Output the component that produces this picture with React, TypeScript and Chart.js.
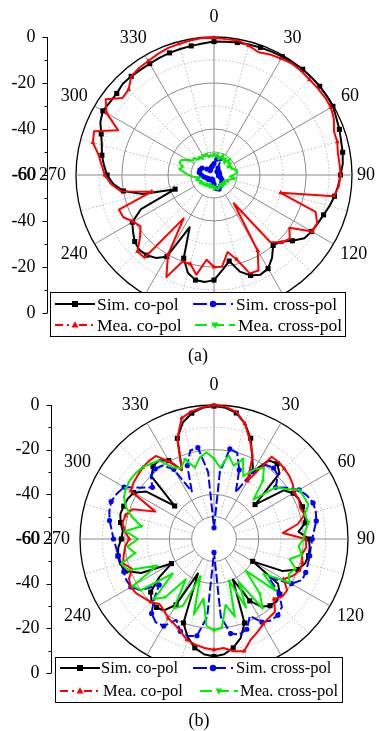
import React, { useEffect, useRef } from "react";
import { Chart, registerables } from "chart.js";

Chart.register(...registerables);

// ---------- data ----------
const ANGLES = [
  0, 5, 10, 15, 20, 25, 30, 35, 40, 45, 50, 55, 60, 65, 70, 75, 80, 85,
  90, 95, 100, 105, 110, 115, 120, 125, 130, 135, 140, 145, 150, 155, 160, 165, 170, 175,
  180, 185, 190, 195, 200, 205, 210, 215, 220, 225, 230, 235, 240, 245, 250, 255, 260, 265,
  270, 275, 280, 285, 290, 295, 300, 305, 310, 315, 320, 325, 330, 335, 340, 345, 350, 355,
];
const ANGLE_LABELS = [0, 30, 60, 90, 120, 150, 180, 210, 240, 270, 300, 330];
const GRID_VALUES = [-50, -40, -30, -20, -10, 0];
const AXIS_TICKS = [-60, -50, -40, -30, -20, -10, 0];
const AXIS_LABELS = [0, -20, -40, -60];
const LEGEND_LABELS = ["Sim. co-pol", "Sim. cross-pol", "Mea. co-pol", "Mea. cross-pol"];
const CAPTIONS = ["(a)", "(b)"];

// (a)
const SIM_CO_A = [
  -2, -1.8, -1.5, -1.3, -1, -0.8, -0.6, -0.3, 0, 0, 0, -0.1, -0.3, -1.3, -2, -2.8, -3.2, -3.8,
  -5, -5.8, -6.8, -8, -9.3, -10.2, -11, -12, -15.5, -19, -20, -16, -13, -12.2, -13.5, -16.5, -22, -18.5,
  -14.3, -13.3, -13.6, -16, -21.5, -35, -19, -16, -14.5, -14, -15, -17, -19, -25, -42, -28, -20, -16,
  -13.5, -12, -10.5, -9.5, -7.8, -5.5, -4.2, -4.8, -4.8, -3.9, -4, -4.2, -4.1, -3.8, -3.5, -3.3, -3, -2.6,
];
const MEA_CO_A = [
  -0.3, -0.7, -0.6, -1.8, -3.2, -2.2, -1.6, -0.9, -1, -1.3, -1.2, -1.1, -1.3, -2.5, -4.5, -4.5, -5.3, -5.2,
  -5, -5.5, -7, -30, -13, -10.5, -10.8, -20, -17, -18.5, -22, -45, -22, -14.2, -14.5, -22, -26, -20,
  -20, -23, -16, -20, -20, -11, -20, -37, -13, -13, -18, -21, -19.5, -16.5, -16, -32, -19, -15,
  -12.5, -11, -9, -5.5, -4.5, -14, -6, -2.5, -8, -7.5, -4, -3.2, -2.8, -2, -1.3, -1, -0.6, -0.2,
];
const SIM_CROSS_A = [
  -55, -54, -53, -52.5, -52.5, -54, -56.5, -57.5, -58, -58, -57.5, -57, -57.5, -58, -58, -58, -57.5, -57.5,
  -58, -58, -58, -57.5, -57, -56.5, -56, -56, -55.5, -55.5, -55, -55, -54.5, -54, -53.5, -53.5, -54, -55,
  -56, -57, -57.5, -58, -58, -58, -58, -57.5, -57.5, -57.5, -57, -57, -57, -56.5, -56.5, -56, -55.5, -55,
  -54.5, -54, -53.5, -53.5, -53.5, -53.5, -54, -55, -56, -57, -57.5, -57.5, -57, -57, -56.5, -56.5, -56, -55.5,
];
const MEA_CROSS_A = [
  -51, -52, -50.5, -53, -52, -50, -52.5, -51, -53, -50, -52, -51, -53, -51.5, -52, -50.5, -50, -50,
  -51.5, -53, -51, -52.5, -54, -53, -54.5, -55, -53.5, -55, -54, -55.5, -54, -55, -54, -53.5, -54, -55,
  -54, -55.5, -54.5, -55, -54.5, -56, -55, -54, -55, -54, -53.5, -54.5, -53, -54, -53, -52, -53.5, -51,
  -49, -47, -45, -46, -44, -44.5, -47, -49, -48.5, -50.5, -50, -51.5, -50, -51, -50.5, -52, -51, -52,
];

// (b)
const SIM_CO_B = [
  -0.5, -1, -2.7, -6.5, -12, -19.5, -25, -17, -16, -18.5, -36, -22, -19, -18, -17.8, -18, -18.5, -22,
  -17.5, -17, -17, -17.8, -20, -26, -40, -25, -21.5, -20.5, -21, -23, -28, -40, -20, -14, -10.5, -8.2,
  -7.4, -8.2, -10.5, -14.5, -20, -43, -26, -21, -20, -20.5, -23, -30, -38, -24, -18, -16.5, -16.3, -17,
  -18.5, -19, -17.5, -16.6, -17, -17.4, -18.5, -23, -37, -20.5, -17.5, -17, -19.5, -26, -12, -6, -2.8, -1,
];
const MEA_CO_B = [
  0, -0.5, -2.2, -6.5, -13, -19, -30, -15, -15, -15.5, -16, -17, -18.5, -18, -19, -18, -22, -29,
  -19, -18.5, -20, -19, -19, -21, -24, -20, -20, -22, -17.5, -17, -16, -14, -12, -8, -9, -11,
  -10.4, -11, -12, -13.2, -16, -18, -19, -21, -22, -20, -19, -17.5, -17, -18, -21, -17.8, -19, -20,
  -22, -20, -18.4, -19, -21, -31, -17, -16, -15.5, -14.8, -14.5, -14.6, -20, -26, -12, -4, -2, -0.8,
];
const SIM_CROSS_B = [
  -55, -30, -19, -20, -27, -37, -25, -19.5, -18.5, -19.5, -24, -20, -16, -14, -12.8, -12.8, -13.5, -15,
  -16, -16.5, -16.5, -16.5, -16.3, -16.5, -20, -30, -22, -17, -15.5, -15.5, -17, -22, -17, -15.8, -17, -25,
  -54, -25, -16, -15, -16, -20, -15, -14.5, -16.5, -22, -28, -20, -17, -16.7, -17, -17, -16.5, -16,
  -15, -14, -12.5, -11.5, -11, -12, -13.5, -20, -24, -20, -19, -19.8, -24, -36.5, -25, -19, -18.5, -30,
];
const MEA_CROSS_B = [
  -24, -28, -22, -26, -22, -29, -24, -21, -26, -35, -24, -21, -16, -15.5, -15, -18, -17, -19,
  -20, -22, -20, -25, -21, -23, -21, -33, -24, -40, -28, -22, -38, -26, -40, -24, -30, -20,
  -19, -21, -33, -25, -42, -27, -24, -38, -26, -22, -36, -20, -18, -32, -19, -17, -24, -21,
  -26, -20, -27, -22, -18, -15.5, -14.5, -14, -14.2, -14.6, -16, -17, -23, -25, -22, -27, -23, -21,
];

// ---------- styles ----------
const FONT = '"Liberation Serif", "Times New Roman", Times, serif';
const STYLES = [
  { color: "#000000", dash: [] as number[], marker: "rect", every: 2, radius: 3.6, legendDash: [] as number[] },
  { color: "#0000ff", dash: [9, 3], marker: "circle", every: 2, radius: 2.6, legendDash: [14, 5] },
  { color: "#ff0000", dash: [] as number[], marker: "triangle", every: 3, radius: 2.8, legendDash: [8, 4, 2, 4, 2, 4] },
  { color: "#00ee00", dash: [] as number[], marker: "triangle", every: 4, radius: 2.4, legendDash: [12, 5] },
];

type PlotCfg = {
  series: number[][];
  pad: { left: number; right: number; top: number; bottom: number };
  legend: {
    x: number; y: number; w: number; h: number; font: number; rows: number[];
    cols: { l1: number; l2: number; t: number }[][];
  };
};

const PLOTS: PlotCfg[] = [
  {
    series: [SIM_CO_A, SIM_CROSS_A, MEA_CO_A, MEA_CROSS_A],
    pad: { left: 76, right: 24, top: 37, bottom: 53 },
    legend: {
      x: 50.5, y: 292.5, w: 295, h: 44, font: 17.5, rows: [304, 325],
      cols: [
        [{ l1: 55, l2: 95, t: 97 }, { l1: 193, l2: 233, t: 236 }],
        [{ l1: 55, l2: 95, t: 97 }, { l1: 195, l2: 235, t: 238 }],
      ],
    },
  },
  {
    series: [SIM_CO_B, SIM_CROSS_B, MEA_CO_B, MEA_CROSS_B],
    pad: { left: 80, right: 28, top: 39, bottom: 58 },
    legend: {
      x: 55.5, y: 291.5, w: 287, h: 45, font: 16.5, rows: [302, 325],
      cols: [
        [{ l1: 60, l2: 100, t: 101 }, { l1: 193, l2: 233, t: 236 }],
        [{ l1: 60, l2: 100, t: 103 }, { l1: 200, l2: 238, t: 240 }],
      ],
    },
  },
];

function drawMarker(ctx: CanvasRenderingContext2D, kind: string, x: number, y: number, r: number, down: boolean) {
  ctx.beginPath();
  if (kind === "rect") {
    ctx.rect(x - r, y - r, 2 * r, 2 * r);
  } else if (kind === "circle") {
    ctx.arc(x, y, r, 0, Math.PI * 2);
  } else {
    const s = down ? -1 : 1;
    ctx.moveTo(x, y - s * r * 1.2);
    ctx.lineTo(x + r * 1.1, y + s * r * 0.8);
    ctx.lineTo(x - r * 1.1, y + s * r * 0.8);
    ctx.closePath();
  }
  ctx.fill();
}

function makeDecor(cfg: PlotCfg) {
  return {
    id: "decor",
    beforeDatasetsDraw(chart: any) {
      const s = chart.scales.r;
      const ctx: CanvasRenderingContext2D = chart.ctx;
      ctx.save();
      for (const v of GRID_VALUES) {
        const d = s.getDistanceFromCenterForValue(v);
        ctx.beginPath();
        ctx.arc(s.xCenter, s.yCenter, d, 0, Math.PI * 2);
        if (v === 0) {
          ctx.strokeStyle = "#000";
          ctx.lineWidth = 1.3;
          ctx.setLineDash([]);
        } else if (v % 20 === 0 || v === -50) {
          ctx.strokeStyle = "#8a8a8a";
          ctx.lineWidth = 1;
          ctx.setLineDash([]);
        } else {
          ctx.strokeStyle = "#b8b8b8";
          ctx.lineWidth = 1;
          ctx.setLineDash([1.5, 2]);
        }
        ctx.stroke();
      }
      const inner = s.getDistanceFromCenterForValue(-50);
      ANGLES.forEach((a, i) => {
        if (a % 15 !== 0) return;
        const p1 = s.getPointPosition(i, inner);
        const p2 = s.getPointPosition(i, s.drawingArea);
        ctx.beginPath();
        ctx.moveTo(p1.x, p1.y);
        ctx.lineTo(p2.x, p2.y);
        if (a % 30 === 0) {
          ctx.strokeStyle = "#8a8a8a";
          ctx.setLineDash([]);
        } else {
          ctx.strokeStyle = "#b8b8b8";
          ctx.setLineDash([1.5, 2]);
        }
        ctx.lineWidth = 1;
        ctx.stroke();
      });
      ctx.restore();
    },
    afterDraw(chart: any) {
      const s = chart.scales.r;
      const ctx: CanvasRenderingContext2D = chart.ctx;
      const R = s.drawingArea;
      const L = cfg.legend;
      ctx.save();
      ctx.setLineDash([]);
      ctx.fillStyle = "#000";
      ctx.font = `18px ${FONT}`;

      // angle labels (those falling under the legend box are hidden)
      ctx.textAlign = "center";
      ctx.textBaseline = "middle";
      for (const a of ANGLE_LABELS) {
        const i = ANGLES.indexOf(a);
        const p = s.getPointPosition(i, R + 10);
        const th = (a * Math.PI) / 180;
        const txt = String(a);
        const w = ctx.measureText(txt).width;
        let cx = p.x + Math.sin(th) * (w / 2);
        const cy = p.y - Math.cos(th) * 10;
        if (cx + w / 2 > chart.width - 1) cx = chart.width - 1 - w / 2;
        const hidden = cx + w / 2 > L.x && cx - w / 2 < L.x + L.w && cy + 7 > L.y;
        if (!hidden) ctx.fillText(txt, cx, cy);
      }

      // left radial axis
      const axX = Math.round(s.xCenter - R - 29) + 0.5;
      ctx.strokeStyle = "#000";
      ctx.lineWidth = 1;
      ctx.beginPath();
      ctx.moveTo(axX, s.yCenter - R);
      ctx.lineTo(axX, s.yCenter + R);
      ctx.stroke();
      for (const v of AXIS_TICKS) {
        const d = s.getDistanceFromCenterForValue(v);
        for (const sg of [-1, 1]) {
          const y = Math.round(s.yCenter + sg * d) + 0.5;
          const len = v % 20 === 0 ? 5 : 3;
          ctx.beginPath();
          ctx.moveTo(axX - len, y);
          ctx.lineTo(axX, y);
          ctx.stroke();
        }
      }
      ctx.textAlign = "right";
      for (const v of AXIS_LABELS) {
        const d = s.getDistanceFromCenterForValue(v);
        for (const sg of [-1, 1]) {
          const y = s.yCenter + sg * d;
          ctx.fillText(String(v), axX - 12 + (v === -60 && sg > 0 ? 0.7 : 0), y);
        }
      }

      // legend
      ctx.fillStyle = "#fff";
      ctx.fillRect(L.x, L.y, L.w, L.h);
      ctx.strokeStyle = "#000";
      ctx.lineWidth = 1;
      ctx.strokeRect(L.x, L.y, L.w, L.h);
      ctx.font = `${L.font}px ${FONT}`;
      [0, 1, 2, 3].forEach((k) => {
        const row = Math.floor(k / 2);
        const col = k % 2;
        const pos = L.cols[row][col];
        const y = L.rows[row];
        const st = STYLES[k];
        ctx.strokeStyle = st.color;
        ctx.lineWidth = 2;
        ctx.setLineDash(st.legendDash);
        ctx.beginPath();
        ctx.moveTo(pos.l1, y);
        ctx.lineTo(pos.l2, y);
        ctx.stroke();
        ctx.setLineDash([]);
        ctx.fillStyle = st.color;
        const mx = (pos.l1 + pos.l2) / 2;
        drawMarker(ctx, st.marker, mx, y, st.marker === "rect" ? 3 : 3.2, k === 3);
        ctx.fillStyle = "#000";
        ctx.textAlign = "left";
        ctx.textBaseline = "middle";
        ctx.fillText(LEGEND_LABELS[k], pos.t, y + 1);
      });
      ctx.restore();
    },
  };
}

function PolarPlot({ cfg, height }: { cfg: PlotCfg; height: number }) {
  const ref = useRef<HTMLCanvasElement | null>(null);
  useEffect(() => {
    if (!ref.current) return;
    const datasets = cfg.series.map((data, k) => {
      const st = STYLES[k];
      return {
        label: LEGEND_LABELS[k],
        data,
        order: [4, 3, 2, 1][k],
        borderColor: st.color,
        backgroundColor: st.color,
        borderWidth: 2,
        borderDash: st.dash,
        fill: false,
        tension: 0,
        clip: false as any,
        pointStyle: st.marker,
        pointRotation: k === 3 ? 180 : 0,
        pointRadius: (c: any) => (c.dataIndex % st.every === 0 ? st.radius : 0),
        pointBorderWidth: 0,
        pointBackgroundColor: st.color,
        pointBorderColor: st.color,
      };
    });
    const chart = new Chart(ref.current, {
      type: "radar",
      data: { labels: ANGLES.map(String), datasets },
      options: {
        responsive: false,
        animation: false,
        layout: { padding: cfg.pad },
        plugins: { legend: { display: false }, tooltip: { enabled: false } },
        elements: { line: { borderJoinStyle: "round" } },
        scales: {
          r: {
            min: -60,
            max: 0,
            startAngle: 0,
            ticks: { display: false, stepSize: 10 },
            grid: { display: false },
            angleLines: { display: false },
            pointLabels: { display: false },
          },
        },
      },
      plugins: [makeDecor(cfg)],
    } as any);
    return () => chart.destroy();
  }, [cfg]);
  return <canvas ref={ref} width={376} height={height} style={{ display: "block" }} />;
}

export default function App() {
  return (
    <div style={{ position: "absolute", left: 0, top: 0, width: 376, height: 731, background: "#fff", overflow: "hidden" }}>
      <div style={{ position: "absolute", left: 0, top: 0 }}>
        <PolarPlot cfg={PLOTS[0]} height={366} />
      </div>
      <div style={{ position: "absolute", left: 0, top: 366 }}>
        <PolarPlot cfg={PLOTS[1]} height={365} />
      </div>
      <div style={{ position: "absolute", left: 148, top: 344, width: 100, textAlign: "center", font: `18px ${FONT}`, lineHeight: "22px" }}>
        {CAPTIONS[0]}
      </div>
      <div style={{ position: "absolute", left: 149, top: 709, width: 100, textAlign: "center", font: `18px ${FONT}`, lineHeight: "22px" }}>
        {CAPTIONS[1]}
      </div>
    </div>
  );
}
